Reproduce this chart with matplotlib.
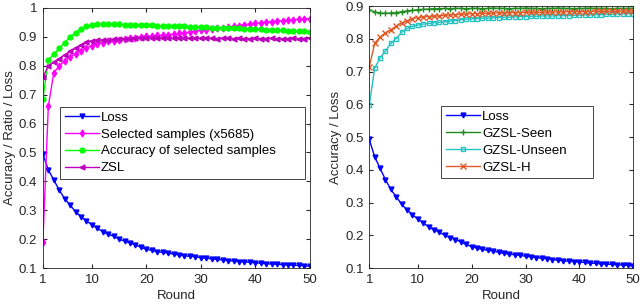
import matplotlib
matplotlib.use("Agg")
import matplotlib.pyplot as plt

plt.rcParams['font.family'] = ['Liberation Sans', 'DejaVu Sans']
plt.rcParams['font.size'] = 9.5

rounds = list(range(1, 51))

loss = [0.493, 0.44, 0.405, 0.37, 0.34, 0.318, 0.295, 0.278, 0.263, 0.25,
        0.238, 0.226, 0.217, 0.21, 0.2, 0.193, 0.187, 0.18, 0.172, 0.165,
        0.161, 0.157, 0.154, 0.152, 0.148, 0.145, 0.142, 0.141, 0.139, 0.136,
        0.134, 0.132, 0.13, 0.128, 0.126, 0.124, 0.122, 0.121, 0.12, 0.118,
        0.117, 0.115, 0.114, 0.113, 0.112, 0.111, 0.11, 0.109, 0.108, 0.106]

selected = [0.19, 0.66, 0.775, 0.80, 0.815, 0.83, 0.842, 0.852, 0.862, 0.87,
            0.875, 0.88, 0.884, 0.887, 0.89, 0.893, 0.895, 0.897, 0.899, 0.902,
            0.903, 0.905, 0.906, 0.908, 0.91, 0.912, 0.914, 0.917, 0.92, 0.923,
            0.925, 0.927, 0.929, 0.931, 0.934, 0.937, 0.939, 0.942, 0.945, 0.947,
            0.949, 0.951, 0.953, 0.955, 0.956, 0.958, 0.959, 0.961, 0.962, 0.963]

acc_selected = [0.685, 0.82, 0.84, 0.86, 0.88, 0.9, 0.915, 0.928, 0.936, 0.941,
                0.943, 0.944, 0.944, 0.943, 0.943, 0.942, 0.942, 0.941, 0.941, 0.94,
                0.94, 0.939, 0.938, 0.938, 0.937, 0.936, 0.936, 0.935, 0.934, 0.934,
                0.933, 0.932, 0.932, 0.931, 0.93, 0.93, 0.929, 0.928, 0.927, 0.927,
                0.926, 0.925, 0.924, 0.923, 0.922, 0.921, 0.92, 0.92, 0.919, 0.918]

zsl = [0.76, 0.80, 0.812, 0.825, 0.838, 0.85, 0.862, 0.872, 0.882, 0.886,
       0.888, 0.889, 0.89, 0.891, 0.892, 0.893, 0.894, 0.895, 0.895, 0.896,
       0.896, 0.896, 0.896, 0.896, 0.895, 0.896, 0.895, 0.895, 0.895, 0.895,
       0.895, 0.895, 0.894, 0.895, 0.895, 0.894, 0.895, 0.894, 0.894, 0.895,
       0.894, 0.894, 0.895, 0.894, 0.894, 0.894, 0.895, 0.894, 0.894, 0.895]

gzsl_seen = [0.889, 0.882, 0.879, 0.878, 0.879, 0.88, 0.883, 0.885, 0.887, 0.889,
             0.89, 0.891, 0.892, 0.892, 0.893, 0.892, 0.893, 0.893, 0.892, 0.893,
             0.893, 0.892, 0.893, 0.894, 0.893, 0.893, 0.892, 0.893, 0.893, 0.894,
             0.893, 0.893, 0.892, 0.893, 0.893, 0.894, 0.893, 0.893, 0.892, 0.893,
             0.893, 0.894, 0.893, 0.893, 0.893, 0.892, 0.893, 0.893, 0.893, 0.893]

gzsl_unseen = [0.598, 0.71, 0.742, 0.763, 0.786, 0.801, 0.82, 0.832, 0.838, 0.842,
               0.845, 0.847, 0.849, 0.85, 0.852, 0.854, 0.856, 0.858, 0.86, 0.861,
               0.862, 0.863, 0.863, 0.864, 0.865, 0.866, 0.866, 0.867, 0.868, 0.868,
               0.869, 0.869, 0.87, 0.87, 0.87, 0.871, 0.871, 0.871, 0.872, 0.872,
               0.873, 0.873, 0.874, 0.874, 0.875, 0.875, 0.876, 0.876, 0.877, 0.877]

gzsl_h = [0.715, 0.786, 0.806, 0.818, 0.828, 0.839, 0.849, 0.855, 0.862, 0.865,
          0.867, 0.868, 0.869, 0.87, 0.872, 0.873, 0.874, 0.875, 0.876, 0.877,
          0.877, 0.878, 0.878, 0.879, 0.879, 0.879, 0.88, 0.88, 0.88, 0.881,
          0.881, 0.881, 0.881, 0.882, 0.882, 0.882, 0.882, 0.883, 0.883, 0.883,
          0.883, 0.883, 0.884, 0.884, 0.884, 0.884, 0.884, 0.885, 0.885, 0.885]

xticks = [1, 10, 20, 30, 40, 50]
left_yticks = [0.1, 0.2, 0.3, 0.4, 0.5, 0.6, 0.7, 0.8, 0.9, 1.0]
left_ylabels = ['0.1', '0.2', '0.3', '0.4', '0.5', '0.6', '0.7', '0.8', '0.9', '1']
right_yticks = [0.1, 0.2, 0.3, 0.4, 0.5, 0.6, 0.7, 0.8, 0.9]

grey = (0.15, 0.15, 0.15)


def style_axes(ax):
    ax.set_xlim(1, 50)
    ax.set_xticks(xticks)
    ax.tick_params(direction='in', top=True, right=True, length=3,
                   colors=grey, labelsize=9.5, pad=4)
    for s in ax.spines.values():
        s.set_color(grey)
        s.set_linewidth(0.6)
    ax.set_xlabel('Round', color=grey, labelpad=3)


def add_legend(ax, box):
    leg = ax.legend(loc='upper left', bbox_to_anchor=box, mode='expand',
                    borderaxespad=0, fancybox=False, framealpha=1,
                    edgecolor=grey, handlelength=2.6, handletextpad=0.15,
                    borderpad=0.35, labelspacing=0.35, fontsize=9.5)
    leg.get_frame().set_linewidth(0.6)
    return leg


fig = plt.figure(figsize=(6.4, 3.06), dpi=100)
ax1 = fig.add_axes([0.067, 0.124, 0.417, 0.85])
ax2 = fig.add_axes([0.577, 0.124, 0.4125, 0.856])

ms = 3.5
ax1.plot(rounds, loss, color='#0000ff', marker='v', ms=ms, lw=1, label='Loss')
ax1.plot(rounds, selected, color='#ff00ff', marker='d', ms=ms, lw=1,
         label='Selected samples (x5685)')
ax1.plot(rounds, acc_selected, color='#00ff00', marker='o', ms=ms, lw=1,
         label='Accuracy of selected samples')
ax1.plot(rounds, zsl, color='#bf00bf', marker='<', ms=ms, lw=1, label='ZSL')
ax1.set_ylim(0.1, 1.0)
ax1.set_yticks(left_yticks)
ax1.set_yticklabels(left_ylabels)
ax1.set_ylabel('Accuracy / Ratio / Loss', color=grey, labelpad=2)
style_axes(ax1)
add_legend(ax1, (0.064, 0.33, 0.917, 0.29))

ax2.plot(rounds, loss, color='#0000ff', marker='v', ms=ms, lw=1, label='Loss')
ax2.plot(rounds, gzsl_seen, color='#1f8a1f', marker='+', ms=5, lw=1,
         label='GZSL-Seen')
ax2.plot(rounds, gzsl_unseen, color='#26c2c2', marker='s', ms=3, lw=1,
         mfc='none', label='GZSL-Unseen')
ax2.plot(rounds, gzsl_h, color='#e05a28', marker='x', ms=4, lw=1, label='GZSL-H')
ax2.set_ylim(0.1, 0.9)
ax2.set_yticks(right_yticks)
ax2.set_ylabel('Accuracy / Loss', color=grey, labelpad=2)
style_axes(ax2)
add_legend(ax2, (0.273, 0.351, 0.575, 0.267))

fig.savefig('out.png', dpi=100)
